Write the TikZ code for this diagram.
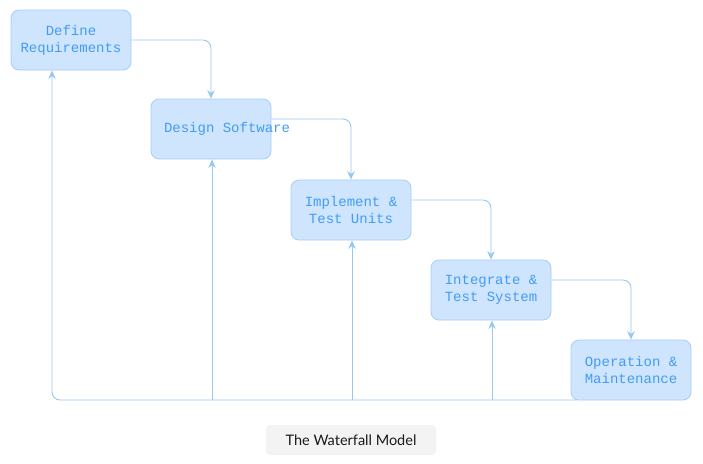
\documentclass[tikz,border=0pt]{standalone}
\usepackage{fontspec}
\setmainfont{Lato}
\setmonofont{Liberation Mono}
\usetikzlibrary{arrows.meta}
\definecolor{boxfill}{RGB}{206,229,253}
\definecolor{boxline}{RGB}{166,206,245}
\definecolor{boxtext}{RGB}{66,156,245}
\definecolor{flowline}{RGB}{153,199,242}
\definecolor{capfill}{RGB}{243,243,243}
\definecolor{captext}{RGB}{26,26,26}
\begin{document}
\begin{tikzpicture}[x=1pt,y=-1pt,>={Stealth[length=8.5pt,width=7.5pt]},
    stage/.style={draw=boxline,fill=boxfill,rectangle,rounded corners=8pt,line width=0.8pt,minimum width=120pt,minimum height=60pt,align=center,text=boxtext,font=\ttfamily\fontsize{14}{17}\selectfont},
    flow/.style={draw=flowline,line width=0.9pt,rounded corners=8pt,->}]
            \useasboundingbox (0,0) rectangle (703,463);
            \node[stage] (define) at (71,40) {Define\\Requirements};
            \node[stage,inner xsep=13pt] (design) at (211,129) {\makebox[94pt][l]{Design Software}};
            \node[stage] (implement) at (351,210) {Implement \&\\Test Units};
            \node[stage] (integrate) at (491,290) {Integrate \&\\Test System};
            \node[stage] (operate) at (631,370) {Operation \&\\Maintenance};
            \draw[flow] (define.east) -| (design.north);
            \draw[flow] ([yshift=10pt]design.east) -| (implement.north);
            \draw[flow] ([yshift=10pt]implement.east) -| (integrate.north);
            \draw[flow] ([yshift=10pt]integrate.east) -| (operate.north);
            % feedback path back to every stage
            \coordinate (back) at (577,400);
            \draw[flow] (back) -| ([xshift=-19pt]define.south);
            \foreach \s in {design,implement,integrate}
                \draw[flow] ([xshift=1pt]\s.south |- back) -- ([xshift=1pt]\s.south);
            \node[fill=capfill,rounded corners=4pt,minimum width=170pt,minimum height=30pt,text=captext,font=\fontsize{14.5}{17}\selectfont] (caption) at (351,440) {The Waterfall Model};
        \end{tikzpicture}
\end{document}
